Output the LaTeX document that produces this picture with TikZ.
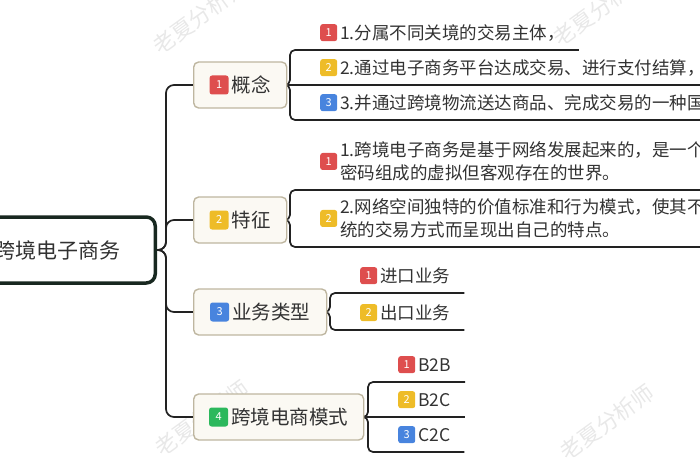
\documentclass[tikz,border=0pt]{standalone}
\usepackage{fontspec}
\setmainfont{Noto Sans CJK SC}
\usetikzlibrary{backgrounds}
\definecolor{bred}{RGB}{222,78,78}
\definecolor{byel}{RGB}{238,188,40}
\definecolor{bblu}{RGB}{72,132,222}
\definecolor{bgrn}{RGB}{44,184,92}
\definecolor{lnc}{RGB}{34,34,34}
\definecolor{txt}{RGB}{50,50,50}
\definecolor{boxf}{RGB}{251,249,243}
\definecolor{boxd}{RGB}{190,182,160}
\definecolor{rootd}{RGB}{24,40,32}
\tikzset{
  badgebox/.style={anchor=center, shape=rectangle, draw=none, rounded corners=2.5pt,
    inner sep=0pt, minimum size=#1, text height=, text depth=, text=white,
    font=\fontsize{11}{11}\selectfont},
  rootbox/.style={anchor=east, draw=rootd, fill=white, line width=3.5pt, rounded corners=9pt,
    minimum width=196pt, minimum height=66pt, text=txt, font=\fontsize{21}{26}\selectfont},
  topic/.style={anchor=west, draw=boxd, fill=boxf, line width=1.4pt, rounded corners=5pt,
    minimum height=46pt, inner xsep=0pt, text=txt, font=\fontsize{19.5}{24}\selectfont},
  item/.style={anchor=south west, inner xsep=14pt, inner ysep=6.5pt, text depth=4pt, text=txt,
    font=\fontsize{17.5}{23}\selectfont},
  item2/.style={item, text depth=, inner ysep=3pt},
  trunk/.style={draw=lnc, line width=1.7pt, rounded corners=8pt},
  branch/.style={draw=lnc, line width=1.7pt, rounded corners=5pt},
  wmark/.style={rotate=36, text=black!9, font=\fontsize{22}{22}\selectfont}
}
\newcommand{\numbadge}[3]{\tikz[baseline=-0.38em]\node[badgebox=#1, fill=#2]{#3};}
\newcommand{\subtext}[3]{\hspace*{16pt}\numbadge{17pt}{#1}{#2}\,#3}

\begin{document}
\begin{tikzpicture}[x=1pt, y=-1pt]
\useasboundingbox (0,0) rectangle (700,470);
% root and main topics
\node[rootbox] (root) at (157,250) {跨境电子商务};
\node[topic, minimum width=93pt] (concept) at (193,85) {\numbadge{19pt}{bred}{1}\,概念};
\node[topic, minimum width=93pt] (feature) at (193,220) {\numbadge{19pt}{byel}{2}\,特征};
\node[topic, minimum width=133pt] (types) at (193,312) {\numbadge{19pt}{bblu}{3}\,业务类型};
\node[topic, minimum width=170pt] (mode) at (193,417) {\numbadge{19pt}{bgrn}{4}\,跨境电商模式};
% subtopics
\node[item] (c1) at (290,50) {\subtext{bred}{1}{1.分属不同关境的交易主体，}};
\node[item] (c2) at (290,85) {\subtext{byel}{2}{2.通过电子商务平台达成交易、进行支付结算，}};
\node[item] (c3) at (290,120) {\subtext{bblu}{3}{3.并通过跨境物流送达商品、完成交易的一种国}};
\node[item2] (f1) at (290,190) {\subtext{bred}{1}{\begin{tabular}{@{}l@{}}1.跨境电子商务是基于网络发展起来的，是一个\\密码组成的虚拟但客观存在的世界。\end{tabular}}};
\node[item2] (f2) at (290,247) {\subtext{byel}{2}{\begin{tabular}{@{}l@{}}2.网络空间独特的价值标准和行为模式，使其不\\统的交易方式而呈现出自己的特点。\end{tabular}}};
\node[item] (t1) at (330,293) {\subtext{bred}{1}{进口业务}};
\node[item] (t2) at (330,330) {\subtext{byel}{2}{出口业务}};
\node[item] (m1) at (368,382) {\subtext{bred}{1}{B2B}};
\node[item] (m2) at (368,417) {\subtext{byel}{2}{B2C}};
\node[item] (m3) at (368,452) {\subtext{bblu}{3}{C2C}};

\begin{scope}[on background layer]
% watermarks
\foreach \x/\y [count=\i] in {200/16, 600/8, 202/418, 607/422}
  \node[wmark] (wm\i) at (\x,\y) {老夏分析师};
% connectors
\coordinate (tr) at (166,250);
\foreach \n in {concept,feature,types,mode}
  \draw[trunk] (root.east) -- (tr) -- (tr |- \n.west) -- (\n.west);
\foreach \p/\k in {concept/c1,concept/c3,feature/f1,feature/f2,types/t1,types/t2,mode/m1,mode/m3}
  \draw[branch] (\p.east) -- (\p.east -| \k.south west) -- (\k.south west) -- (\k.south east);
\foreach \p/\k in {concept/c2,mode/m2}
  \draw[branch] (\p.east) -- (\k.south east);
\end{scope}
\end{tikzpicture}
\end{document}
